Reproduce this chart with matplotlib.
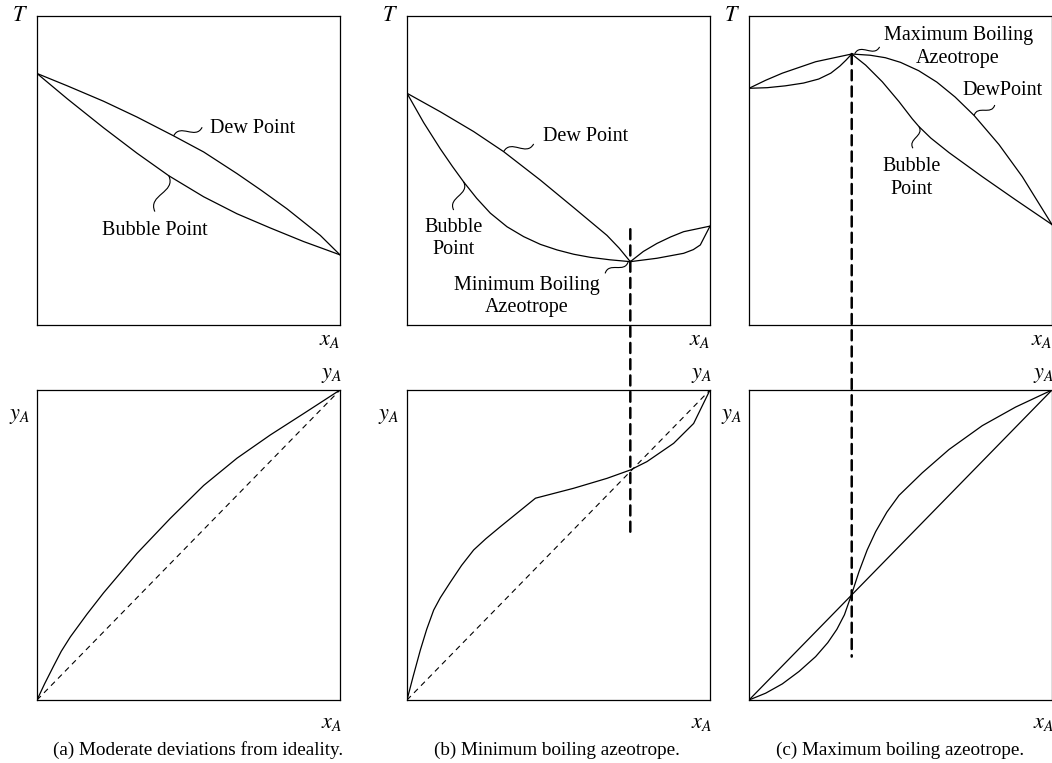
import numpy as np
import matplotlib
matplotlib.use("Agg")
import matplotlib.pyplot as plt
from matplotlib.path import Path
from matplotlib.patches import PathPatch, ConnectionPatch

plt.rcParams['font.family'] = ['Liberation Serif', 'DejaVu Serif']
plt.rcParams['mathtext.fontset'] = 'stix'

# ---- (a) moderate deviations: T-x diagram
a_dew_x = [0.0, 0.1, 0.22, 0.33, 0.451, 0.55, 0.66, 0.74, 0.825, 0.935, 1.0]
a_dew_T = [0.814, 0.774, 0.724, 0.673, 0.612, 0.56, 0.49, 0.436, 0.376, 0.29, 0.227]
a_bub_x = [0.0, 0.1, 0.22, 0.33, 0.435, 0.55, 0.66, 0.77, 0.88, 0.95, 1.0]
a_bub_T = [0.814, 0.732, 0.638, 0.556, 0.483, 0.415, 0.36, 0.314, 0.27, 0.245, 0.227]
# (a) y-x diagram
a_yx_x = [0.0, 0.025, 0.055, 0.08, 0.11, 0.165, 0.22, 0.33, 0.44, 0.55, 0.66, 0.77, 0.88, 1.0]
a_yx_y = [0.0, 0.052, 0.11, 0.157, 0.2035, 0.277, 0.346, 0.473, 0.586, 0.692, 0.78, 0.855, 0.924, 1.0]

# ---- (b) minimum boiling azeotrope
b_azeo = 0.737
b_dew_x = [0.0, 0.11, 0.22, 0.319, 0.44, 0.55, 0.66, 0.7, 0.737]
b_dew_T = [0.75, 0.69, 0.626, 0.561, 0.469, 0.38, 0.29, 0.249, 0.205]
b_bub_x = [0.0, 0.055, 0.11, 0.15, 0.187, 0.23, 0.275, 0.33, 0.385, 0.44, 0.495,
           0.55, 0.605, 0.67, 0.737]
b_bub_T = [0.75, 0.655, 0.57, 0.513, 0.463, 0.41, 0.362, 0.318, 0.286, 0.261, 0.243,
           0.229, 0.219, 0.211, 0.205]
b_up_x = [0.737, 0.78, 0.825, 0.87, 0.913, 1.0]
b_up_T = [0.205, 0.238, 0.264, 0.285, 0.302, 0.32]
b_lo_x = [0.737, 0.825, 0.913, 0.945, 0.968, 1.0]
b_lo_T = [0.205, 0.216, 0.232, 0.244, 0.259, 0.32]
b_yx_x = [0.0, 0.02, 0.044, 0.065, 0.088, 0.11, 0.143, 0.18, 0.22, 0.26, 0.308, 0.424,
          0.55, 0.66, 0.737, 0.792, 0.88, 0.946, 1.0]
b_yx_y = [0.0, 0.075, 0.161, 0.228, 0.29, 0.33, 0.38, 0.434, 0.484, 0.52, 0.559, 0.651,
          0.683, 0.715, 0.742, 0.769, 0.828, 0.892, 1.0]

# ---- (c) maximum boiling azeotrope
c_azeo = 0.339
c_lup_x = [0.0, 0.055, 0.11, 0.22, 0.339]
c_lup_T = [0.766, 0.792, 0.815, 0.852, 0.877]
c_llo_x = [0.0, 0.06, 0.12, 0.18, 0.23, 0.27, 0.3, 0.32, 0.339]
c_llo_T = [0.766, 0.768, 0.774, 0.783, 0.796, 0.815, 0.838, 0.857, 0.877]
c_dew_x = [0.339, 0.4, 0.45, 0.5, 0.56, 0.62, 0.68, 0.743, 0.825, 0.902, 1.0]
c_dew_T = [0.877, 0.873, 0.865, 0.85, 0.823, 0.786, 0.738, 0.678, 0.584, 0.48, 0.325]
c_bub_x = [0.339, 0.385, 0.44, 0.495, 0.539, 0.561, 0.6, 0.66, 0.77, 0.88, 1.0]
c_bub_T = [0.877, 0.841, 0.787, 0.723, 0.667, 0.642, 0.605, 0.558, 0.48, 0.405, 0.325]
c_yx_x = [0.0, 0.055, 0.11, 0.165, 0.22, 0.26, 0.29, 0.315, 0.339, 0.363, 0.39,
          0.418, 0.455, 0.495, 0.572, 0.66, 0.77, 0.88, 1.0]
c_yx_y = [0.0, 0.022, 0.052, 0.092, 0.14, 0.185, 0.228, 0.275, 0.342, 0.414, 0.484,
          0.543, 0.606, 0.66, 0.733, 0.808, 0.885, 0.945, 1.0]

captions = ["(a) Moderate deviations from ideality.",
            "(b) Minimum boiling azeotrope.",
            "(c) Maximum boiling azeotrope."]

W, H = 1052, 763
fig = plt.figure(figsize=(W / 100, H / 100), dpi=100)

def px_axes(left, top, right, bottom):
    return fig.add_axes([left / W, 1 - bottom / H, (right - left) / W, (bottom - top) / H])

lefts = [37, 407, 749]
top_axes = [px_axes(l, 16, l + 303, 325) for l in lefts]
bot_axes = [px_axes(l, 390, l + 303, 700) for l in lefts]

for ax in top_axes + bot_axes:
    ax.set_xlim(0, 1)
    ax.set_ylim(0, 1)
    ax.set_xticks([])
    ax.set_yticks([])
    for s in ax.spines.values():
        s.set_linewidth(0.9)

lw = 0.9
fs = 14.5
mfs = 16
ls_ml = 1.25

def squiggle(ax, p0, p1, amp=0.35):
    # S shaped leader line from label to curve
    p0 = np.array(p0, float)
    p1 = np.array(p1, float)
    d = p1 - p0
    n = np.array([-d[1], d[0]]) * amp
    verts = [p0, p0 + d / 3 + n, p0 + 2 * d / 3 - n, p1]
    path = Path(verts, [Path.MOVETO, Path.CURVE4, Path.CURVE4, Path.CURVE4])
    ax.add_patch(PathPatch(path, fc='none', ec='black', lw=0.8))

def curve(ax, x, y):
    ax.plot(x, y, color='black', lw=lw, solid_joinstyle='round')

# ---- T-x plots
ax = top_axes[0]
curve(ax, a_dew_x, a_dew_T)
curve(ax, a_bub_x, a_bub_T)
ax.text(0.71, 0.637, "Dew Point", ha='center', va='center', fontsize=fs)
squiggle(ax, (0.545, 0.64), (0.451, 0.612))
ax.text(0.389, 0.305, "Bubble Point", ha='center', va='center', fontsize=fs)
squiggle(ax, (0.389, 0.367), (0.435, 0.483))

ax = top_axes[1]
curve(ax, b_dew_x, b_dew_T)
curve(ax, b_bub_x, b_bub_T)
curve(ax, b_up_x, b_up_T)
curve(ax, b_lo_x, b_lo_T)
ax.text(0.588, 0.609, "Dew Point", ha='center', va='center', fontsize=fs)
squiggle(ax, (0.418, 0.586), (0.319, 0.561))
ax.text(0.154, 0.28, "Bubble\nPoint", ha='center', va='center', fontsize=fs, linespacing=ls_ml)
squiggle(ax, (0.154, 0.372), (0.187, 0.463))
ax.text(0.396, 0.092, "Minimum Boiling\nAzeotrope", ha='center', va='center', fontsize=fs, linespacing=ls_ml)
squiggle(ax, (0.654, 0.167), (0.73, 0.205))

ax = top_axes[2]
curve(ax, c_lup_x, c_lup_T)
curve(ax, c_llo_x, c_llo_T)
curve(ax, c_dew_x, c_dew_T)
curve(ax, c_bub_x, c_bub_T)
ax.text(0.69, 0.9, "Maximum Boiling\nAzeotrope", ha='center', va='center', fontsize=fs, linespacing=ls_ml)
squiggle(ax, (0.431, 0.9), (0.349, 0.878))
ax.text(0.838, 0.76, "DewPoint", ha='center', va='center', fontsize=fs)
squiggle(ax, (0.811, 0.712), (0.743, 0.678))
ax.text(0.536, 0.475, "Bubble\nPoint", ha='center', va='center', fontsize=fs, linespacing=ls_ml)
squiggle(ax, (0.541, 0.572), (0.561, 0.642))

# ---- y-x plots
ax = bot_axes[0]
ax.plot([0, 1], [0, 1], color='black', lw=0.8, ls=(0, (5, 4)))
curve(ax, a_yx_x, a_yx_y)
ax = bot_axes[1]
ax.plot([0, 1], [0, 1], color='black', lw=0.8, ls=(0, (5, 4)))
curve(ax, b_yx_x, b_yx_y)
ax = bot_axes[2]
ax.plot([0, 1], [0, 1], color='black', lw=lw)
curve(ax, c_yx_x, c_yx_y)

# ---- axis labels and captions
ylab_x = [-0.056, -0.062, -0.058]
for i in range(3):
    t, b = top_axes[i], bot_axes[i]
    t.text(-0.056, 0.997, "$T$", transform=t.transAxes, ha='center', va='center', fontsize=mfs)
    t.text(0.967, -0.05, "$x_A$", transform=t.transAxes, ha='center', va='center', fontsize=mfs)
    b.text(0.972, 1.048, "$y_A$", transform=b.transAxes, ha='center', va='center', fontsize=mfs)
    b.text(ylab_x[i], 0.914, "$y_A$", transform=b.transAxes, ha='center', va='center', fontsize=mfs)
    b.text(0.972, -0.075, "$x_A$", transform=b.transAxes, ha='center', va='center', fontsize=mfs)
cap_x = [0.531, 0.495, 0.499]
for i in range(3):
    bot_axes[i].text(cap_x[i], -0.161, captions[i], transform=bot_axes[i].transAxes,
                     ha='center', va='center', fontsize=13.8)

# ---- azeotrope dashed verticals spanning both panels
for ta, ba, xz, y0, y1 in [(top_axes[1], bot_axes[1], b_azeo, 0.31, 0.527),
                           (top_axes[2], bot_axes[2], c_azeo, 0.877, 0.14)]:
    con = ConnectionPatch(xyA=(xz, y0), coordsA=ta.transData,
                          xyB=(xz, y1), coordsB=ba.transData,
                          color='black', lw=1.8, ls=(0, (4, 2.5)))
    fig.add_artist(con)

fig.savefig("out.png", dpi=100)
